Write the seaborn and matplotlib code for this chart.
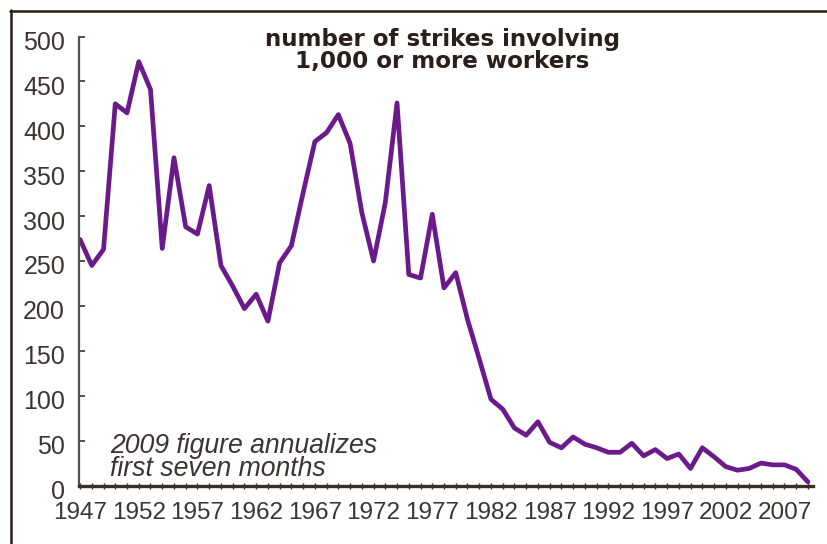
import numpy as np
import pandas as pd
import matplotlib
matplotlib.use("Agg")
import matplotlib.pyplot as plt
import matplotlib.transforms as mtransforms
from matplotlib.lines import Line2D
import seaborn as sns

years = list(range(1947, 2010))
strikes = [274, 245, 263, 425, 415, 472, 441, 264, 365, 288,
           280, 334, 245, 222, 197, 213, 183, 248, 267, 326,
           383, 393, 413, 381, 304, 250, 315, 426, 235, 231,
           302, 220, 237, 185, 141, 96, 85, 64, 56, 71,
           48, 42, 54, 46, 42, 37, 37, 47, 33, 40,
           30, 35, 19, 42, 32, 21, 17, 19, 25, 23,
           23, 18, 4]
x_ticks = list(range(1947, 2008, 5))
y_ticks = list(range(0, 501, 50))
title_text = "number of strikes involving\n1,000 or more workers"
note_text = "2009 figure annualizes\nfirst seven months"

df = pd.DataFrame({"year": years, "strikes": strikes})

sns.set_theme(style="white")
plt.rcParams['font.family'] = ['Liberation Sans Narrow', 'Liberation Sans', 'DejaVu Sans']

W, H = 827, 544
fig = plt.figure(figsize=(W / 100, H / 100), dpi=100)
fig.patch.set_facecolor("white")
ax = fig.add_axes([79 / W, 1 - 485.5 / H, 734 / W, 449 / H])
ax.set_facecolor("white")

sns.lineplot(data=df, x="year", y="strikes", ax=ax, color="#6b1a8c", lw=3.4)

ax.set_xlim(1946.91, 2009.43)
ax.set_ylim(0, 500)
ax.set_xlabel("")
ax.set_ylabel("")

txt_col = "#3d3330"
axis_col = "#3a2c27"
for s in ["top", "right"]:
    ax.spines[s].set_visible(False)
ax.spines["left"].set_color("#5a4d48")
ax.spines["left"].set_linewidth(1.6)
ax.spines["bottom"].set_color(axis_col)
ax.spines["bottom"].set_linewidth(2.4)

ax.set_yticks(y_ticks)
ax.set_yticklabels([str(v) for v in y_ticks])
ax.set_xticks(x_ticks)
ax.set_xticklabels([str(v) for v in x_ticks])
ax.set_xticks(years, minor=True)

ax.tick_params(axis="y", direction="in", length=4, width=1.4, color="#5a4d48",
               labelsize=18, labelcolor=txt_col, pad=10, left=True)
ax.tick_params(axis="x", which="both", direction="inout", length=4, width=1.0,
               color=axis_col, labelsize=17.5, labelcolor=txt_col, pad=10, bottom=True)

off = mtransforms.ScaledTranslation(0, -4 / 100, fig.dpi_scale_trans)
for lab in ax.get_yticklabels():
    lab.set_transform(lab.get_transform() + off)

ax.text(0.495, 1.018, title_text, transform=ax.transAxes, ha="center", va="top",
        fontsize=16.6, fontweight="heavy", color="#2b1f1b", linespacing=0.92,
        family=["DejaVu Sans"])
ax.text(0.042, 0.118, note_text, transform=ax.transAxes, ha="left", va="top",
        fontsize=19.2, fontstyle="italic", color=txt_col, linespacing=0.88,
        family=["Liberation Sans", "DejaVu Sans"])

# frame lines (top and left)
fig.add_artist(Line2D([10 / W, 1], [1 - 10.5 / H, 1 - 10.5 / H], transform=fig.transFigure,
                      color="#2b1d17", lw=1.8))
fig.add_artist(Line2D([10.5 / W, 10.5 / W], [0, 1 - 10 / H], transform=fig.transFigure,
                      color="#2b1d17", lw=1.8))

fig.savefig("out.png", dpi=100, facecolor="white")
